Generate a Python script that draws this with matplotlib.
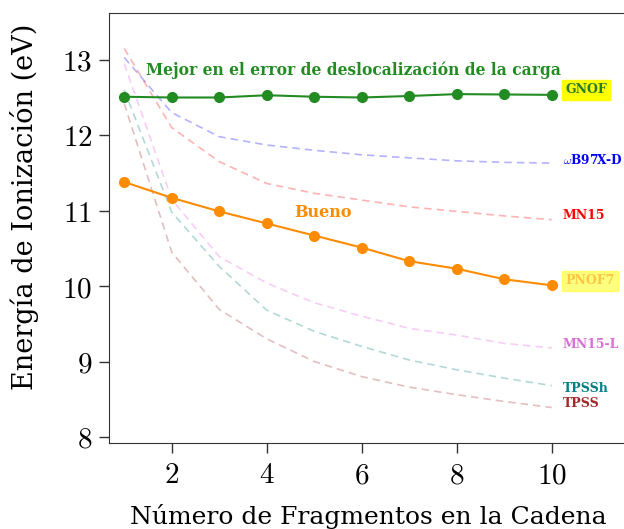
import numpy as np
import matplotlib
matplotlib.use("Agg")
import matplotlib.pyplot as plt

plt.rcParams['font.family'] = 'DejaVu Serif'
plt.rcParams['mathtext.fontset'] = 'cm'

# numero de fragmentos
n = [1, 2, 3, 4, 5, 6, 7, 8, 9, 10]

# energias de ionizacion (eV)
gnof = [12.51, 12.50, 12.50, 12.53, 12.51, 12.50, 12.52, 12.545, 12.54, 12.535]
pnof7 = [11.38, 11.17, 10.99, 10.83, 10.67, 10.51, 10.33, 10.23, 10.09, 10.01]
wb97xd = [13.03, 12.30, 11.98, 11.87, 11.80, 11.74, 11.70, 11.66, 11.64, 11.63]
mn15 = [13.15, 12.10, 11.65, 11.36, 11.23, 11.14, 11.05, 10.99, 10.93, 10.88]
mn15l = [12.95, 11.15, 10.39, 10.04, 9.78, 9.60, 9.44, 9.35, 9.24, 9.18]
tpssh = [12.60, 10.98, 10.26, 9.68, 9.40, 9.20, 9.02, 8.89, 8.78, 8.68]
tpss = [12.42, 10.45, 9.69, 9.30, 9.00, 8.80, 8.66, 8.56, 8.47, 8.39]

xticks = [2, 4, 6, 8, 10]
yticks = [8, 9, 10, 11, 12, 13]

fig = plt.figure(figsize=(6.24, 5.29), dpi=100)
ax = fig.add_axes([0.1747, 0.1626, 0.83, 0.8128])

# funcionales DFT (discontinuas, tenues)
dash = (4.5, 3)
ax.plot(n, wb97xd, '--', dashes=dash, color='blue', alpha=0.3, lw=1.2)
ax.plot(n, mn15, '--', dashes=dash, color='red', alpha=0.3, lw=1.2)
ax.plot(n, mn15l, '--', dashes=dash, color='violet', alpha=0.4, lw=1.2)
ax.plot(n, tpssh, '--', dashes=dash, color='teal', alpha=0.3, lw=1.2)
ax.plot(n, tpss, '--', dashes=dash, color='brown', alpha=0.3, lw=1.2)

# NOFs
ax.plot(n, gnof, '-o', color='forestgreen', lw=1.5, ms=7)
ax.plot(n, pnof7, '-o', color='darkorange', lw=1.5, ms=7)

# etiquetas
lx = 10.28
ax.text(lx, 12.60, 'GNOF', color='#2a7a2a', fontsize=9, fontweight='bold',
        va='center', bbox=dict(facecolor='yellow', edgecolor='yellow', pad=2.5))
ax.text(lx - 0.05, 11.67, r'$\omega$B97X-D', color='blue', fontsize=8.7,
        fontweight='bold', va='center')
ax.text(lx - 0.05, 10.93, 'MN15', color='red', fontsize=9, fontweight='bold', va='center')
ax.text(lx, 10.07, 'PNOF7', color='darkorange', fontsize=9, fontweight='bold',
        va='center', alpha=0.5,
        bbox=dict(facecolor='yellow', edgecolor='yellow', pad=2.5, alpha=0.5))
ax.text(lx - 0.05, 9.23, 'MN15-L', color='orchid', fontsize=9, fontweight='bold', va='center')
ax.text(lx - 0.05, 8.64, 'TPSSh', color='teal', fontsize=9, fontweight='bold', va='center')
ax.text(lx - 0.05, 8.44, 'TPSS', color='brown', fontsize=9, fontweight='bold', va='center')

ax.text(5.83, 12.86, 'Mejor en el error de deslocalización de la carga',
        color='forestgreen', fontsize=11.2, fontweight='bold', ha='center', va='center')
ax.text(5.19, 10.97, 'Bueno', color='darkorange', fontsize=11.5,
        fontweight='bold', ha='center', va='center')

ax.set_xlim(0.68, 11.58)
ax.set_ylim(7.92, 13.62)
ax.set_xticks(xticks)
ax.set_xticklabels(['$%d$' % t for t in xticks])
ax.set_yticks(yticks)
ax.set_yticklabels(['$%d$' % t for t in yticks])
ax.tick_params(direction='out', length=7, width=1, labelsize=21, colors='#333333')
ax.tick_params(axis='y', labelcolor='black', pad=5)
ax.tick_params(axis='x', labelcolor='black', pad=6)
ax.spines['right'].set_visible(False)
for s in ['left', 'bottom', 'top']:
    ax.spines[s].set_color('#333333')

ax.set_xlabel('Número de Fragmentos en la Cadena', fontsize=18, labelpad=11)
ax.set_ylabel('Energía de Ionización (eV)', fontsize=19.5)
ax.yaxis.set_label_coords(-0.135, 0.549)

fig.savefig('out.png', dpi=100)
